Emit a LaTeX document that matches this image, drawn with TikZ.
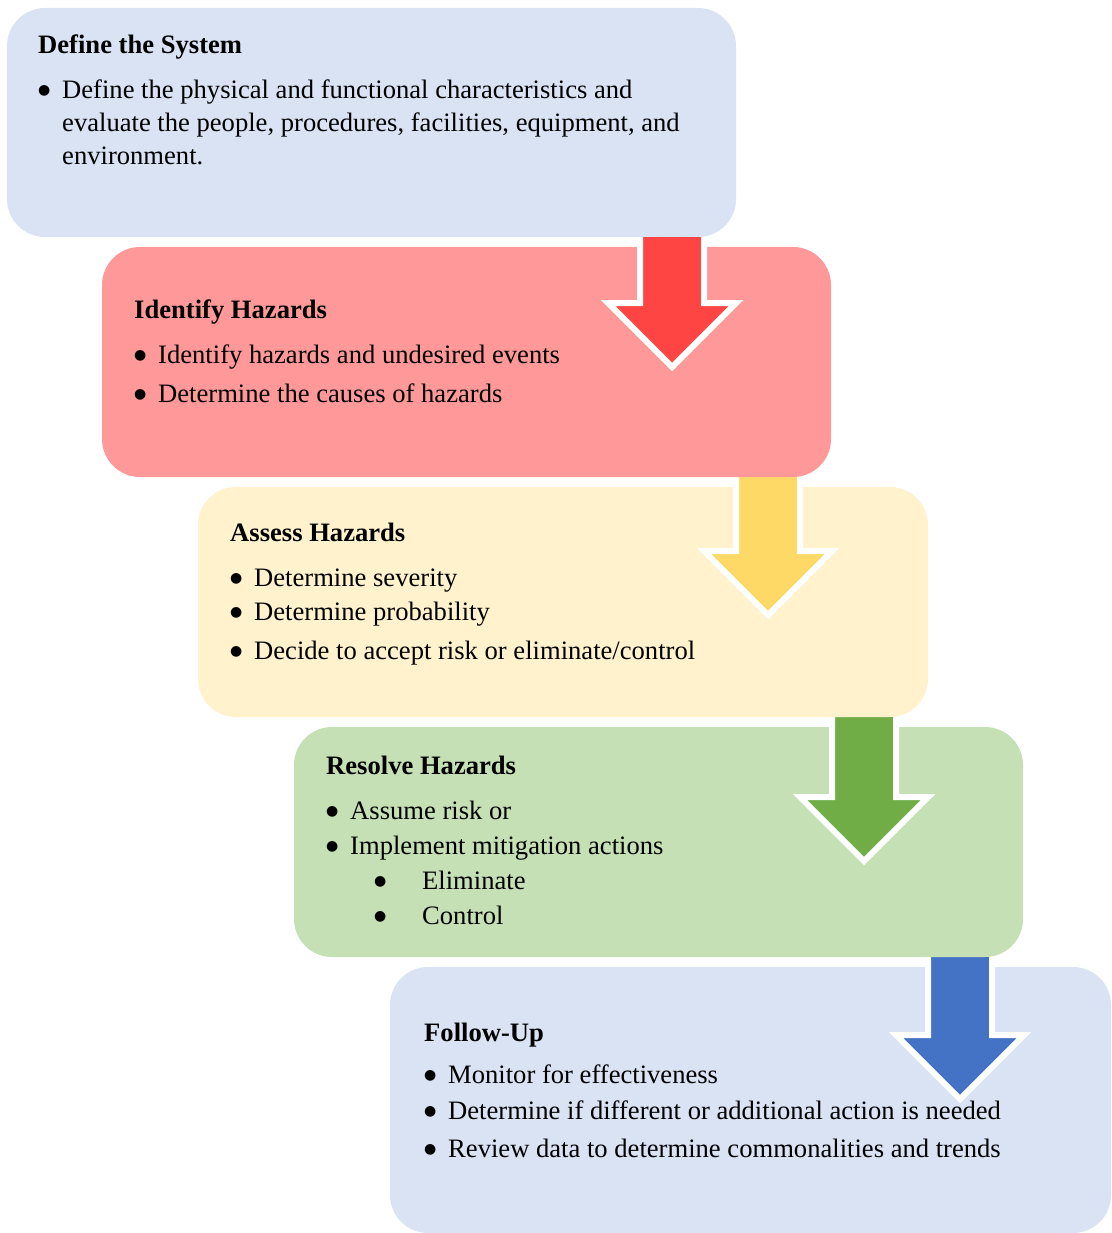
\documentclass[tikz,border=0pt]{standalone}
\usepackage{fontspec}
\setmainfont{Liberation Serif}
\newfontfamily\symfont{DejaVu Sans}
\definecolor{boxblue}{HTML}{DAE3F3}
\definecolor{boxred}{HTML}{FF9999}
\definecolor{boxyellow}{HTML}{FFF2CC}
\definecolor{boxgreen}{HTML}{C5E0B4}
\definecolor{arrred}{HTML}{FF4444}
\definecolor{arryellow}{HTML}{FFD966}
\definecolor{arrgreen}{HTML}{70AD47}
\definecolor{arrblue}{HTML}{4472C4}
\newcommand{\fsz}{\fontsize{26.6}{31}\selectfont}
\newcommand{\bul}{\raisebox{4pt}{\symfont\fontsize{14}{14}\selectfont ●}}
\newcommand{\dnarrow}[4]{%
  \fill[#4] ({#1-32},#2) -- ({#1-32},#3) -- ({#1-64},#3) -- (#1,{#3+64}) -- ({#1+64},#3) -- ({#1+32},#3) -- ({#1+32},#2) -- cycle;
  \draw[white, line width=6pt, line join=miter] ({#1-32},#2) -- ({#1-32},#3) -- ({#1-64},#3) -- (#1,{#3+64}) -- ({#1+64},#3) -- ({#1+32},#3) -- ({#1+32},#2);
}
\tikzset{
  stagebox/.style={rounded corners=38pt},
  ttl/.style={anchor=base west, inner sep=0pt, font=\fsz\bfseries},
  txt/.style={anchor=base west, inner sep=0pt, font=\fsz},
  bulnode/.style={anchor=base west, inner sep=0pt},
}
\begin{document}
\begin{tikzpicture}[x=1pt, y=-1pt]
\useasboundingbox (0,0) rectangle (1111,1233);
% stacking order: lower boxes first
\fill[boxblue, stagebox] (390,967) rectangle (1111,1233);
\dnarrow{960}{957}{1035}{arrblue}
\fill[boxgreen, stagebox] (294,727) rectangle (1023,957);
\dnarrow{864}{717}{797}{arrgreen}
\fill[boxyellow, stagebox] (198,487) rectangle (928,717);
\dnarrow{768}{477}{551}{arryellow}
\fill[boxred, stagebox] (102,247) rectangle (831,477);
\dnarrow{672}{237}{303}{arrred}
\fill[boxblue, stagebox] (7,8) rectangle (736,237);

% Box 1
\node[ttl] (t1) at (38,54) {Define the System};
\node[bulnode] (b1a) at (38,99) {\bul};
\node[txt] (l1a) at (62,99) {Define the physical and functional characteristics and};
\node[txt] (l1b) at (62,132) {evaluate the people, procedures, facilities, equipment, and};
\node[txt] (l1c) at (62,165) {environment.};

% Box 2
\node[ttl] (t2) at (134,318) {Identify Hazards};
\node[bulnode] (b2a) at (134,363) {\bul};
\node[txt] (l2a) at (158,363) {Identify hazards and undesired events};
\node[bulnode] (b2b) at (134,402) {\bul};
\node[txt] (l2b) at (158,402) {Determine the causes of hazards};

% Box 3
\node[ttl] (t3) at (230,541) {Assess Hazards};
\node[bulnode] (b3a) at (230,586) {\bul};
\node[txt] (l3a) at (254,586) {Determine severity};
\node[bulnode] (b3b) at (230,620) {\bul};
\node[txt] (l3b) at (254,620) {Determine probability};
\node[bulnode] (b3c) at (230,659) {\bul};
\node[txt] (l3c) at (254,659) {Decide to accept risk or eliminate/control};

% Box 4
\node[ttl] (t4) at (326,774) {Resolve Hazards};
\node[bulnode] (b4a) at (326,819) {\bul};
\node[txt] (l4a) at (350,819) {Assume risk or};
\node[bulnode] (b4b) at (326,854) {\bul};
\node[txt] (l4b) at (350,854) {Implement mitigation actions};
\node[bulnode] (b4c) at (374,889) {\bul};
\node[txt] (l4c) at (422,889) {Eliminate};
\node[bulnode] (b4d) at (374,924) {\bul};
\node[txt] (l4d) at (422,924) {Control};

% Box 5
\node[ttl] (t5) at (424,1041) {Follow-Up};
\node[bulnode] (b5a) at (424,1083) {\bul};
\node[txt] (l5a) at (448,1083) {Monitor for effectiveness};
\node[bulnode] (b5b) at (424,1119) {\bul};
\node[txt] (l5b) at (448,1119) {Determine if different or additional action is needed};
\node[bulnode] (b5c) at (424,1157) {\bul};
\node[txt] (l5c) at (448,1157) {Review data to determine commonalities and trends};
\end{tikzpicture}
\end{document}
